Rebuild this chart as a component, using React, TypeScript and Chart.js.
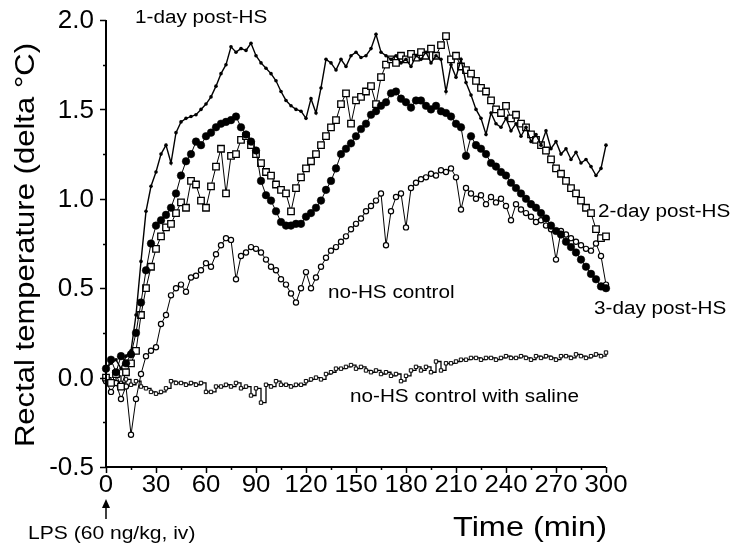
import React, { useEffect, useRef } from "react";
import { Chart, registerables } from "chart.js";

Chart.register(...registerables);

// Time points (min)
const times = [
  0, 3, 6, 9, 12, 15, 18, 21, 24, 27, 30, 33, 36, 39, 42, 45, 48, 51, 54, 57,
  60, 63, 66, 69, 72, 75, 78, 81, 84, 87, 90, 93, 96, 99, 102, 105, 108, 111, 114, 117,
  120, 123, 126, 129, 132, 135, 138, 141, 144, 147, 150, 153, 156, 159, 162, 165, 168, 171, 174, 177,
  180, 183, 186, 189, 192, 195, 198, 201, 204, 207, 210, 213, 216, 219, 222, 225, 228, 231, 234, 237,
  240, 243, 246, 249, 252, 255, 258, 261, 264, 267, 270, 273, 276, 279, 282, 285, 288, 291, 294, 297, 300,
];

const day1PostHS = [
  0.05, 0.08, 0.10, 0.05, 0.12, 0.15, 0.35, 0.65, 0.93, 1.07, 1.15, 1.25, 1.30, 1.20, 1.37, 1.43, 1.45, 1.46, 1.47, 1.50,
  1.53, 1.57, 1.63, 1.70, 1.75, 1.85, 1.82, 1.84, 1.83, 1.87, 1.80, 1.76, 1.73, 1.70, 1.66, 1.60, 1.55, 1.52, 1.50, 1.49,
  1.45, 1.56, 1.48, 1.62, 1.78, 1.76, 1.72, 1.78, 1.74, 1.80, 1.82, 1.79, 1.80, 1.84, 1.92, 1.82, 1.80, 1.78, 1.80, 1.76,
  1.78, 1.74, 1.80, 1.78, 1.82, 1.76, 1.80, 1.78, 1.60, 1.75, 1.68, 1.78, 1.65, 1.58, 1.50, 1.45, 1.36, 1.48, 1.42, 1.40,
  1.45, 1.38, 1.42, 1.35, 1.40, 1.32, 1.36, 1.30, 1.38, 1.28, 1.32, 1.25, 1.28, 1.22, 1.26, 1.20, 1.22, 1.18, 1.13, 1.17, 1.30,
];

const day2PostHS = [
  0.00, -0.03, 0.02, -0.05, 0.03, 0.08, 0.15, 0.35, 0.50, 0.62, 0.72, 0.79, 0.84, 0.86, 0.92, 0.98, 0.95, 1.10, 1.08, 0.99,
  0.95, 1.07, 1.18, 1.28, 1.03, 1.24, 1.25, 1.33, 1.35, 1.30, 1.25, 1.20, 1.15, 1.13, 1.08, 1.05, 1.03, 0.93, 1.06, 1.12,
  1.17, 1.21, 1.25, 1.30, 1.35, 1.40, 1.44, 1.53, 1.59, 1.42, 1.55, 1.57, 1.60, 1.63, 1.53, 1.68, 1.75, 1.78, 1.76, 1.80,
  1.78, 1.81, 1.79, 1.82, 1.80, 1.84, 1.80, 1.86, 1.91, 1.78, 1.80, 1.74, 1.72, 1.70, 1.66, 1.62, 1.60, 1.55, 1.50, 1.48,
  1.52, 1.45, 1.47, 1.42, 1.40, 1.36, 1.33, 1.30, 1.27, 1.22, 1.17, 1.14, 1.10, 1.06, 1.03, 0.99, 0.95, 0.92, 0.83, 0.78, 0.79,
];

const day3PostHS = [
  0.05, 0.10, 0.03, 0.12, 0.08, 0.13, 0.25, 0.42, 0.60, 0.75, 0.85, 0.88, 0.91, 0.95, 1.03, 1.13, 1.21, 1.25, 1.32, 1.30,
  1.35, 1.37, 1.40, 1.42, 1.43, 1.44, 1.46, 1.40, 1.36, 1.32, 1.27, 1.10, 1.02, 0.99, 0.93, 0.87, 0.85, 0.85, 0.86, 0.86,
  0.90, 0.92, 0.95, 0.99, 1.05, 1.10, 1.17, 1.25, 1.28, 1.31, 1.35, 1.39, 1.42, 1.47, 1.49, 1.52, 1.54, 1.59, 1.60, 1.56,
  1.54, 1.51, 1.55, 1.55, 1.52, 1.50, 1.52, 1.49, 1.48, 1.46, 1.42, 1.40, 1.24, 1.35, 1.30, 1.28, 1.25, 1.20, 1.18, 1.15,
  1.13, 1.09, 1.06, 1.03, 1.00, 0.97, 0.95, 0.92, 0.89, 0.85, 0.82, 0.80, 0.76, 0.73, 0.70, 0.66, 0.62, 0.58, 0.55, 0.51, 0.50,
];

const noHSControl = [
  -0.02, -0.08, -0.03, -0.12, -0.05, -0.32, -0.12, 0.02, 0.12, 0.15, 0.17, 0.30, 0.35, 0.46, 0.50, 0.52, 0.48, 0.56, 0.57, 0.60,
  0.64, 0.62, 0.69, 0.74, 0.78, 0.77, 0.55, 0.68, 0.70, 0.73, 0.72, 0.70, 0.66, 0.62, 0.60, 0.55, 0.52, 0.47, 0.42, 0.50,
  0.59, 0.50, 0.56, 0.62, 0.67, 0.71, 0.73, 0.76, 0.79, 0.83, 0.86, 0.89, 0.93, 0.96, 0.99, 1.03, 0.74, 0.93, 1.01, 1.03,
  0.84, 1.06, 1.09, 1.11, 1.12, 1.14, 1.13, 1.16, 1.15, 1.17, 1.12, 0.94, 1.06, 1.03, 1.00, 1.02, 0.97, 1.01, 0.98, 1.00,
  0.96, 0.88, 0.97, 0.94, 0.92, 0.90, 0.87, 0.88, 0.85, 0.83, 0.66, 0.82, 0.80, 0.78, 0.76, 0.74, 0.72, 0.71, 0.75, 0.68, 0.52,
];

const noHSSaline = [
  0.00, -0.02, 0.01, -0.03, -0.01, -0.04, -0.02, -0.05, -0.06, -0.08, -0.09, -0.08, -0.06, -0.02, -0.03, -0.03, -0.04, -0.03, -0.04, -0.03,
  -0.08, -0.08, -0.05, -0.05, -0.04, -0.05, -0.03, -0.06, -0.05, -0.10, -0.06, -0.14, -0.04, -0.05, -0.02, -0.04, -0.04, -0.05, -0.04, -0.04,
  -0.02, -0.01, 0.00, -0.01, 0.02, 0.03, 0.05, 0.05, 0.06, 0.07, 0.05, 0.06, 0.04, 0.03, 0.04, 0.02, 0.03, 0.01, 0.02, -0.02,
  0.01, 0.04, 0.06, 0.04, 0.06, 0.03, 0.09, 0.04, 0.08, 0.08, 0.09, 0.10, 0.10, 0.11, 0.11, 0.10, 0.11, 0.11, 0.10, 0.11,
  0.12, 0.11, 0.11, 0.12, 0.11, 0.10, 0.12, 0.11, 0.12, 0.11, 0.10, 0.12, 0.12, 0.11, 0.13, 0.12, 0.11, 0.12, 0.13, 0.12, 0.14,
];

const xMajorTicks = [0, 30, 60, 90, 120, 150, 180, 210, 240, 270, 300];
const xMinorTicks = [15, 45, 75, 105, 135, 165, 195, 225, 255, 285];
const yMajorTicks = [-0.5, 0.0, 0.5, 1.0, 1.5, 2.0];
const yMinorTicks = [-0.25, 0.25, 0.75, 1.25, 1.75];

const annotations = [
  { text: "1-day post-HS", t: 135, y: 18 },
  { text: "2-day post-HS", t: 598, y: 212 },
  { text: "3-day post-HS", t: 594, y: 309 },
  { text: "no-HS control", t: 328, y: 293 },
  { text: "no-HS control with saline", t: 350, y: 397 },
];

const FONT = '"Liberation Sans", Arial, Helvetica, sans-serif';

function drawText(
  ctx: CanvasRenderingContext2D,
  s: string,
  x: number,
  y: number,
  size: number,
  align: CanvasTextAlign,
  sx = 1,
  rotate = 0
) {
  ctx.save();
  ctx.font = `normal ${size}px ${FONT}`;
  ctx.fillStyle = "#000";
  ctx.textBaseline = "middle";
  ctx.textAlign = align;
  ctx.translate(x, y);
  if (rotate) ctx.rotate(rotate);
  ctx.scale(sx, 1);
  ctx.fillText(s, 0, 0);
  ctx.restore();
}

const decorPlugin = {
  id: "decor",
  afterDraw(chart: any) {
    const ctx: CanvasRenderingContext2D = chart.ctx;
    const xs = chart.scales.x;
    const ys = chart.scales.y;
    const left = chart.chartArea.left;
    const bottom = chart.chartArea.bottom;
    const top = chart.chartArea.top;
    const right = chart.chartArea.right;
    ctx.save();
    ctx.strokeStyle = "#000";
    ctx.lineWidth = 2;
    ctx.beginPath();
    ctx.moveTo(left, top);
    ctx.lineTo(left, bottom);
    ctx.lineTo(right, bottom);
    ctx.stroke();
    ctx.lineWidth = 1.5;
    ctx.beginPath();
    for (const v of yMajorTicks) {
      const py = Math.round(ys.getPixelForValue(v)) + 0.5;
      ctx.moveTo(left - 6, py);
      ctx.lineTo(left, py);
    }
    for (const v of yMinorTicks) {
      const py = Math.round(ys.getPixelForValue(v)) + 0.5;
      ctx.moveTo(left - 3, py);
      ctx.lineTo(left, py);
    }
    for (const v of xMajorTicks) {
      const px = Math.round(xs.getPixelForValue(v)) + 0.5;
      ctx.moveTo(px, bottom);
      ctx.lineTo(px, bottom + 6);
    }
    for (const v of xMinorTicks) {
      const px = Math.round(xs.getPixelForValue(v)) + 0.5;
      ctx.moveTo(px, bottom);
      ctx.lineTo(px, bottom + 3);
    }
    ctx.stroke();

    for (const v of yMajorTicks) {
      drawText(ctx, v.toFixed(1), left - 12, ys.getPixelForValue(v) + 1, 26, "right", 1);
    }
    for (const v of xMajorTicks) {
      drawText(ctx, String(v), xs.getPixelForValue(v), bottom + 19, 23, "center", 1.12);
    }

    drawText(ctx, "Rectal temperature (delta \u00B0C)", 27, 245, 27, "center", 1.15, -Math.PI / 2);
    drawText(ctx, "Time (min)", 453, 528, 28, "left", 1.16);
    drawText(ctx, "LPS (60 ng/kg, iv)", 28, 534, 18, "left", 1.17);

    for (const a of annotations) {
      drawText(ctx, a.text, a.t, a.y, 18, "left", 1.15);
    }

    // arrow at LPS injection
    const ax = xs.getPixelForValue(0);
    ctx.lineWidth = 1.5;
    ctx.beginPath();
    ctx.moveTo(ax, 519);
    ctx.lineTo(ax, 502);
    ctx.stroke();
    ctx.fillStyle = "#000";
    ctx.beginPath();
    ctx.moveTo(ax, 499);
    ctx.lineTo(ax - 4, 508);
    ctx.lineTo(ax + 4, 508);
    ctx.closePath();
    ctx.fill();
    ctx.restore();
  },
};

function toXY(values: number[]) {
  return values.map((v, i) => ({ x: times[i], y: v }));
}

export default function App() {
  const ref = useRef<HTMLCanvasElement | null>(null);
  useEffect(() => {
    if (!ref.current) return;
    const chart = new Chart(ref.current, {
      type: "line",
      data: {
        datasets: [
          {
            label: "1-day post-HS",
            data: toXY(day1PostHS),
            borderColor: "#000",
            backgroundColor: "#000",
            borderWidth: 1.4,
            pointRadius: 1.8,
            pointStyle: "circle",
            pointBorderWidth: 0,
            clip: false,
          },
          {
            label: "3-day post-HS",
            data: toXY(day3PostHS),
            borderColor: "#000",
            backgroundColor: "#000",
            borderWidth: 1,
            pointRadius: 3.8,
            pointStyle: "circle",
            pointBorderWidth: 0.5,
            clip: false,
          },
          {
            label: "2-day post-HS",
            data: toXY(day2PostHS),
            borderColor: "#000",
            backgroundColor: "#fff",
            borderWidth: 1,
            pointRadius: 4.6,
            pointStyle: "rect",
            pointBorderWidth: 1.3,
            clip: false,
          },
          {
            label: "no-HS control",
            data: toXY(noHSControl),
            borderColor: "#000",
            backgroundColor: "#fff",
            borderWidth: 1,
            pointRadius: 2.6,
            pointStyle: "circle",
            pointBorderWidth: 1.2,
            clip: false,
          },
          {
            label: "no-HS control with saline",
            data: toXY(noHSSaline),
            borderColor: "#000",
            backgroundColor: "#fff",
            borderWidth: 1.3,
            pointRadius: 2.4,
            pointStyle: "rect",
            pointBorderWidth: 1,
            stepped: true,
            clip: false,
          },
        ],
      },
      options: {
        responsive: false,
        animation: false,
        layout: { padding: { left: 106, top: 20, right: 127, bottom: 83 } },
        plugins: { legend: { display: false }, tooltip: { enabled: false } },
        elements: { line: { tension: 0 } },
        scales: {
          x: {
            type: "linear",
            min: 0,
            max: 300,
            display: true,
            grid: { display: false, drawTicks: false },
            border: { display: false },
            ticks: { display: false },
            afterFit: (s: any) => {
              s.height = 0;
            },
          },
          y: {
            type: "linear",
            min: -0.5,
            max: 2.0,
            display: true,
            grid: { display: false, drawTicks: false },
            border: { display: false },
            ticks: { display: false },
            afterFit: (s: any) => {
              s.width = 0;
            },
          },
        },
      },
      plugins: [decorPlugin],
    });
    return () => chart.destroy();
  }, []);
  return (
    <div style={{ position: "absolute", left: 0, top: 0, width: 733, height: 550, background: "#fff" }}>
      <canvas ref={ref} width={733} height={550} style={{ display: "block" }} />
    </div>
  );
}
